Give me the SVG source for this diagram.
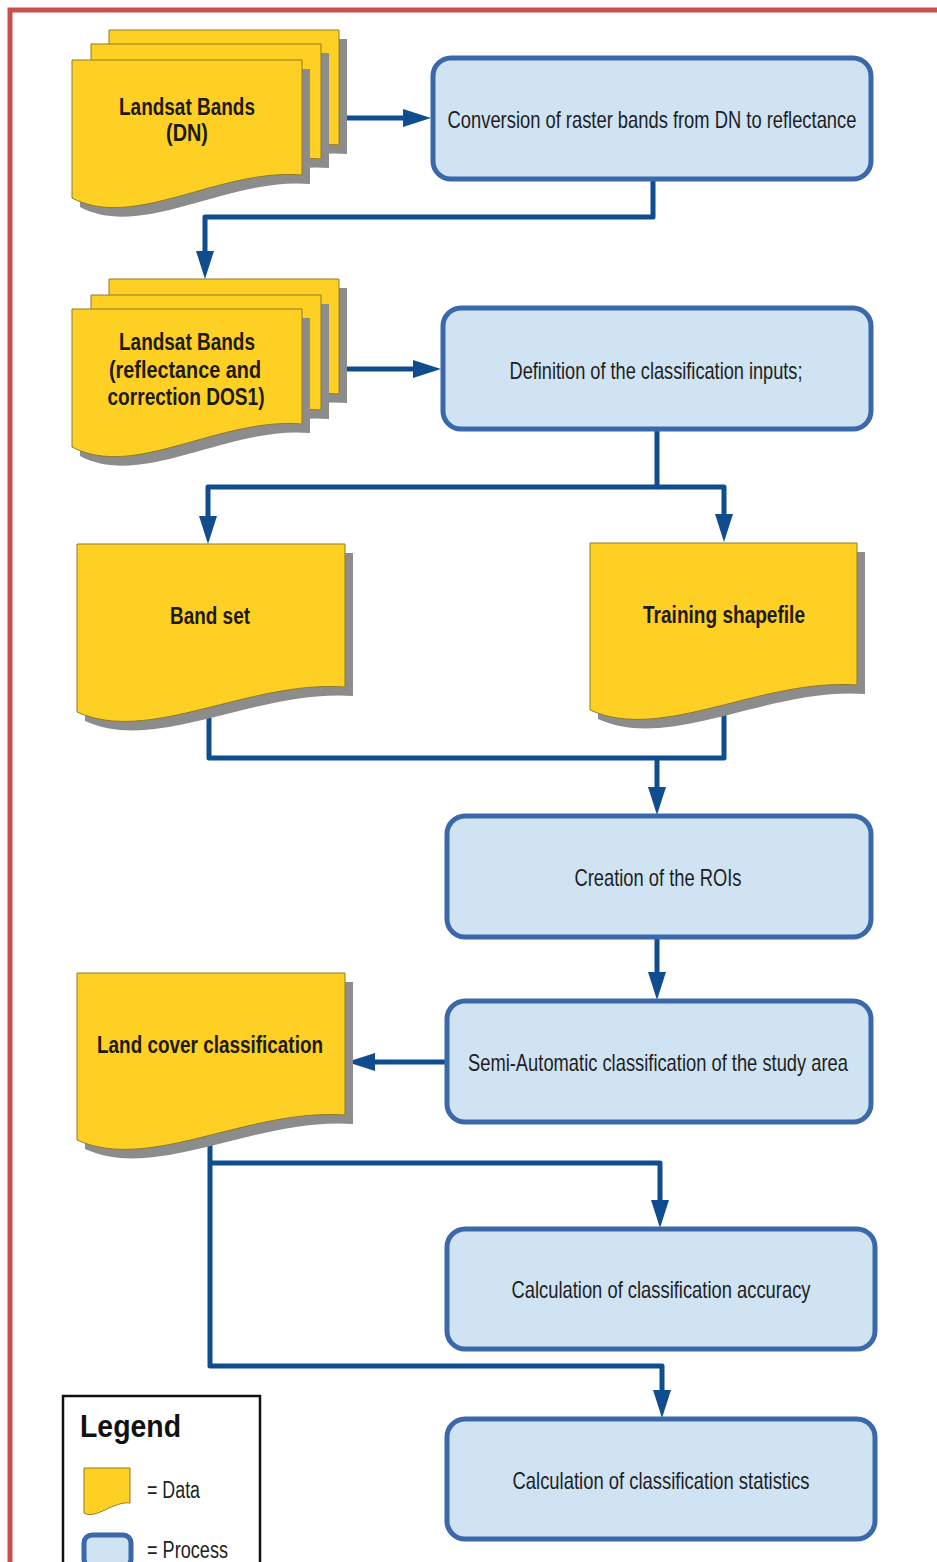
<svg xmlns="http://www.w3.org/2000/svg" width="937" height="1562" viewBox="0 0 937 1562">
<defs>
<style>
.sheet{fill:#fdd023;stroke:#8f7a2a;stroke-width:1}
.shadow{fill:#8c8c8c}
.proc{fill:#cfe3f3;stroke:#3b68aa;stroke-width:5}
.conn{fill:none;stroke:#0f4d8f;stroke-width:5;stroke-linejoin:round}
.pt{font-family:"Liberation Sans",Arial,sans-serif;font-size:24px;fill:#1e1e1e;text-anchor:middle}
.dt{font-family:"Liberation Sans",Arial,sans-serif;font-size:23px;font-weight:bold;fill:#1e1a14;text-anchor:middle}
.lt{font-family:"Liberation Sans",Arial,sans-serif;font-size:23px;fill:#222}
</style>
<marker id="arr" markerUnits="userSpaceOnUse" markerWidth="28" markerHeight="18" refX="8" refY="9" orient="auto">
<path d="M0,0 L28,9 L0,18 Z" fill="#0f4d8f"/>
</marker>
</defs>
<rect width="937" height="1562" fill="#ffffff"/>
<path d="M10,1562 V10 H937" fill="none" stroke="#c94f4f" stroke-width="5"/>

<g id="connectors">
<path class="conn" d="M340,118 H411" marker-end="url(#arr)"/>
<path class="conn" d="M653,180 V217 H205 V259" marker-end="url(#arr)"/>
<path class="conn" d="M340,369 H421" marker-end="url(#arr)"/>
<path class="conn" d="M657,430 V487 H208 V524" marker-end="url(#arr)"/>
<path class="conn" d="M657,487 H724 V522" marker-end="url(#arr)"/>
<path class="conn" d="M209,712 V758 H724 V710"/>
<path class="conn" d="M657,758 V795" marker-end="url(#arr)"/>
<path class="conn" d="M657,938 V980" marker-end="url(#arr)"/>
<path class="conn" d="M446,1062 H367" marker-end="url(#arr)"/>
<path class="conn" d="M210,1140 V1366 H662 V1398" marker-end="url(#arr)"/>
<path class="conn" d="M210,1163 H660 V1208" marker-end="url(#arr)"/>
</g>

<g id="landsat-dn">
<path class="shadow" transform="translate(8,9)" d="M109,30 H339 V145 C256.2,138 171.1,201 109,168 Z"/>
<path class="sheet" d="M109,30 H339 V145 C256.2,138 171.1,201 109,168 Z"/>
<path class="shadow" transform="translate(8,9)" d="M91,44 H321 V159 C238.2,152 153.1,215 91,182 Z"/>
<path class="sheet" d="M91,44 H321 V159 C238.2,152 153.1,215 91,182 Z"/>
<path class="shadow" transform="translate(8,9)" d="M72,60 H302 V175 C219.2,168 134.1,231 72,198 Z"/>
<path class="sheet" d="M72,60 H302 V175 C219.2,168 134.1,231 72,198 Z"/>
<text class="dt" x="187" y="115" textLength="136" lengthAdjust="spacingAndGlyphs">Landsat Bands</text>
<text class="dt" x="187" y="141" textLength="42" lengthAdjust="spacingAndGlyphs">(DN)</text>
</g>

<g id="conversion">
<rect class="proc" x="433" y="58" width="438" height="121" rx="18"/>
<text class="pt" transform="translate(652,128) scale(0.8,1)" x="0" y="0" textLength="511" lengthAdjust="spacingAndGlyphs">Conversion of raster bands from DN to reflectance</text>
</g>

<g id="landsat-refl">
<path class="shadow" transform="translate(8,9)" d="M109,279 H339 V394 C256.2,387 171.1,450 109,417 Z"/>
<path class="sheet" d="M109,279 H339 V394 C256.2,387 171.1,450 109,417 Z"/>
<path class="shadow" transform="translate(8,9)" d="M91,295 H321 V410 C238.2,403 153.1,466 91,433 Z"/>
<path class="sheet" d="M91,295 H321 V410 C238.2,403 153.1,466 91,433 Z"/>
<path class="shadow" transform="translate(8,9)" d="M72,309 H302 V424 C219.2,417 134.1,480 72,447 Z"/>
<path class="sheet" d="M72,309 H302 V424 C219.2,417 134.1,480 72,447 Z"/>
<text class="dt" x="187" y="350" textLength="136" lengthAdjust="spacingAndGlyphs">Landsat Bands</text>
<text class="dt" x="185" y="378" textLength="152" lengthAdjust="spacingAndGlyphs">(reflectance and</text>
<text class="dt" x="186" y="405" textLength="157" lengthAdjust="spacingAndGlyphs">correction DOS1)</text>
</g>

<g id="definition">
<rect class="proc" x="443" y="308" width="428" height="121" rx="18"/>
<text class="pt" x="656" y="379" textLength="293" lengthAdjust="spacingAndGlyphs">Definition of the classification inputs;</text>
</g>

<g id="band-set">
<path class="shadow" transform="translate(8,9)" d="M77,544 H345 V687 C248.5,680 149.4,745 77,712 Z"/>
<path class="sheet" d="M77,544 H345 V687 C248.5,680 149.4,745 77,712 Z"/>
<text class="dt" x="210" y="624" textLength="80" lengthAdjust="spacingAndGlyphs">Band set</text>
</g>

<g id="training-shapefile">
<path class="shadow" transform="translate(8,9)" d="M590,543 H857 V685 C760.9,678 662.1,743 590,710 Z"/>
<path class="sheet" d="M590,543 H857 V685 C760.9,678 662.1,743 590,710 Z"/>
<text class="dt" x="724" y="623" textLength="162" lengthAdjust="spacingAndGlyphs">Training shapefile</text>
</g>

<g id="creation-rois">
<rect class="proc" x="447" y="816" width="424" height="121" rx="18"/>
<text class="pt" x="658" y="886" textLength="167" lengthAdjust="spacingAndGlyphs">Creation of the ROIs</text>
</g>

<g id="semi-automatic">
<rect class="proc" x="447" y="1001" width="424" height="121" rx="18"/>
<text class="pt" transform="translate(658,1071) scale(0.8,1)" x="0" y="0" textLength="475" lengthAdjust="spacingAndGlyphs">Semi-Automatic classification of the study area</text>
</g>

<g id="land-cover">
<path class="shadow" transform="translate(8,9)" d="M77,973 H345 V1115 C248.5,1108 149.4,1173 77,1140 Z"/>
<path class="sheet" d="M77,973 H345 V1115 C248.5,1108 149.4,1173 77,1140 Z"/>
<text class="dt" x="210" y="1053" textLength="226" lengthAdjust="spacingAndGlyphs">Land cover classification</text>
</g>

<g id="accuracy">
<rect class="proc" x="447" y="1229" width="428" height="120" rx="18"/>
<text class="pt" x="661" y="1298" textLength="299" lengthAdjust="spacingAndGlyphs">Calculation of classification accuracy</text>
</g>

<g id="statistics">
<rect class="proc" x="447" y="1419" width="428" height="120" rx="18"/>
<text class="pt" x="661" y="1489" textLength="297" lengthAdjust="spacingAndGlyphs">Calculation of classification statistics</text>
</g>

<g id="legend">
<rect x="63" y="1396" width="197" height="200" fill="#ffffff" stroke="#111" stroke-width="2.5"/>
<text x="80" y="1437" font-family="Liberation Sans, Arial, sans-serif" font-size="32" font-weight="bold" fill="#111" textLength="101" lengthAdjust="spacingAndGlyphs">Legend</text>
<path class="sheet" d="M84,1468 H130 V1503 C113,1501 96,1520 84,1513 Z"/>
<text class="lt" x="147" y="1498" textLength="53" lengthAdjust="spacingAndGlyphs">= Data</text>
<rect class="proc" x="84" y="1535" width="47" height="32" rx="8"/>
<text class="lt" x="147" y="1558" textLength="81" lengthAdjust="spacingAndGlyphs">= Process</text>
</g>
</svg>
